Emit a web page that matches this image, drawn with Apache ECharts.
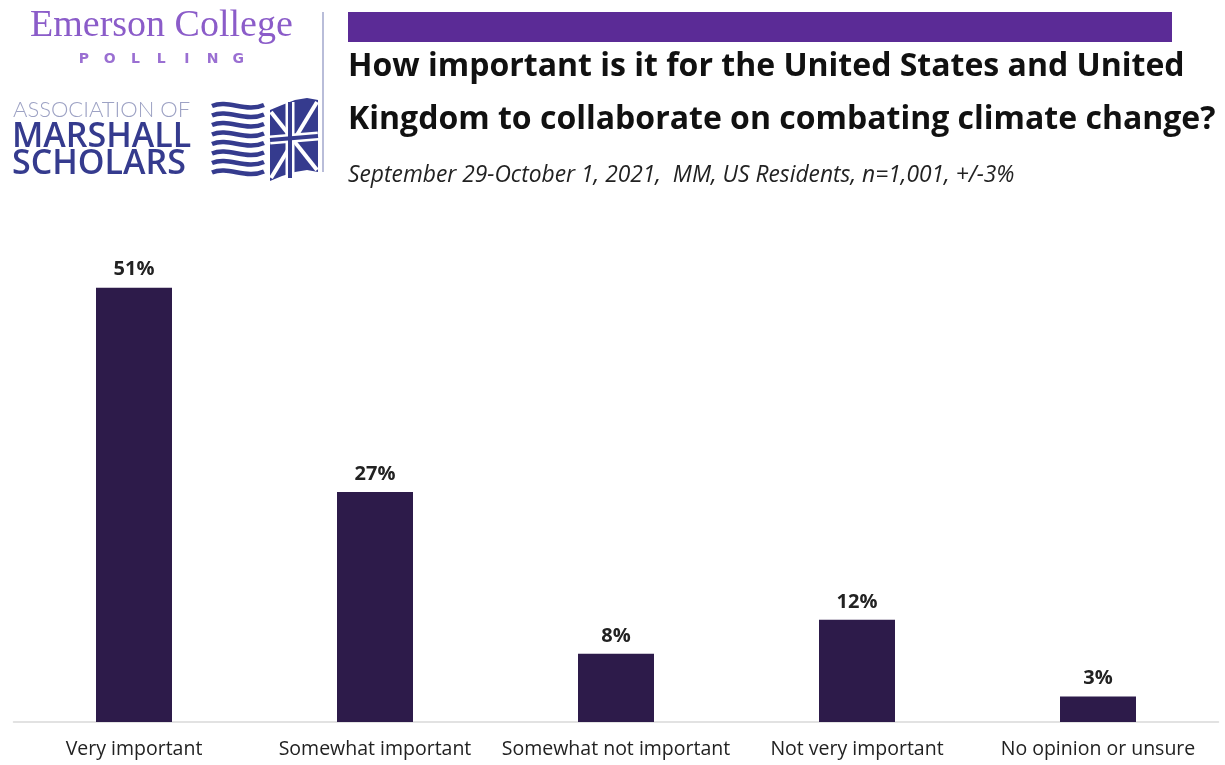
<!DOCTYPE html>
<html><head><meta charset="utf-8">
<script src="https://cdn.jsdelivr.net/npm/echarts@6/dist/echarts.min.js"></script>
<style>html,body{margin:0;padding:0;background:#fff}#c{width:1225px;height:765px}</style>
</head><body><div id="c"></div>
<script>
var categories = ['Very important','Somewhat important','Somewhat not important','Not very important','No opinion or unsure'];
var values = [51, 27, 8, 12, 3];
var titleLine1 = 'How important is it for the United States and United';
var titleLine2 = 'Kingdom to collaborate on combating climate change?';
var subtitle = 'September 29-October 1, 2021,  MM, US Residents, n=1,001, +/-3%';

var chart = echarts.init(document.getElementById('c'));
var navy = '#353b8e';
var purple = '#8b5cc9';
var polling = ['P','O','L','L','I','N','G'];
var graphics = [];
graphics.push({type:'text', x:30, y:26, style:{text:'Emerson College', font:'38px "Liberation Serif"', fill:purple, textVerticalAlign:'middle'}});
polling.forEach(function(ch,i){
  graphics.push({type:'text', x:84+i*25.7, y:59, style:{text:ch, font:'bold 14px "DejaVu Sans"', fill:'#9a6fd2', textAlign:'center', textVerticalAlign:'middle'}});
});
graphics.push({type:'text', x:13, y:110, style:{text:'ASSOCIATION OF', font:'300 22px Lato', fill:'#9da2c4', textVerticalAlign:'middle'}});
graphics.push({type:'text', x:12, y:137, style:{text:'MARSHALL', font:'600 34px "Open Sans"', fill:navy, textVerticalAlign:'middle'}});
graphics.push({type:'text', x:12, y:164, style:{text:'SCHOLARS', font:'600 34px "Open Sans"', fill:navy, textVerticalAlign:'middle'}});
// flag: US wavy stripes
for (var k=0;k<8;k++){
  var y0 = 106 + k*9.5;
  graphics.push({type:'bezierCurve', shape:{x1:212,y1:y0,cpx1:228,cpy1:y0-7,cpx2:246,cpy2:y0+7,x2:264,y2:y0-1}, style:{stroke:navy, lineWidth:4.5, fill:null}});
}
// UK part
graphics.push({type:'polygon', shape:{points:[[270,110],[282,105],[295,100],[307,98],[318,100],[318,172],[307,170],[295,172],[282,176],[270,181]]}, style:{fill:navy}});
graphics.push({type:'line', shape:{x1:271,y1:112,x2:317,y2:170}, style:{stroke:'#fff', lineWidth:4}});
graphics.push({type:'line', shape:{x1:271,y1:178,x2:317,y2:102}, style:{stroke:'#fff', lineWidth:4}});
graphics.push({type:'line', shape:{x1:290,y1:102,x2:290,y2:178}, style:{stroke:'#fff', lineWidth:9}});
graphics.push({type:'line', shape:{x1:270,y1:140,x2:318,y2:136}, style:{stroke:'#fff', lineWidth:9}});
graphics.push({type:'line', shape:{x1:290,y1:102,x2:290,y2:178}, style:{stroke:navy, lineWidth:4}});
graphics.push({type:'line', shape:{x1:270,y1:140,x2:318,y2:136}, style:{stroke:navy, lineWidth:4}});
// divider
graphics.push({type:'line', shape:{x1:323,y1:12,x2:323,y2:172}, style:{stroke:'#b9bdd9', lineWidth:2}});
// purple bar
graphics.push({type:'rect', shape:{x:348,y:12,width:824,height:30}, style:{fill:'#5b2b96'}});
graphics.push({type:'text', x:348, y:67, style:{text:titleLine1, font:'bold 32px "Open Sans"', fill:'#111', textVerticalAlign:'middle'}});
graphics.push({type:'text', x:348, y:120, style:{text:titleLine2, font:'bold 32px "Open Sans"', fill:'#111', textVerticalAlign:'middle'}});
graphics.push({type:'text', x:348, y:176, style:{text:subtitle, font:'italic 22.8px "Open Sans"', fill:'#222', textVerticalAlign:'middle'}});

chart.setOption({
  animation:false,
  backgroundColor:'#fff',
  graphic: graphics,
  grid:{left:13.5, right:6.5, top:211, bottom:43},
  xAxis:{type:'category', data:categories,
    axisLine:{lineStyle:{color:'#d9d9d9', width:1.5}}, axisTick:{show:false},
    axisLabel:{interval:0, margin:17, fontSize:19.5, fontFamily:'Open Sans', color:'#222'}},
  yAxis:{type:'value', min:0, max:60, show:false, splitLine:{show:false}},
  series:[{type:'bar', data:values, barWidth:76,
    itemStyle:{color:'#2d1b4a'},
    label:{show:true, position:'top', distance:8, formatter:'{c}%', fontSize:20, fontWeight:'bold', fontFamily:'Open Sans', color:'#222'}}]
});
</script></body></html>
